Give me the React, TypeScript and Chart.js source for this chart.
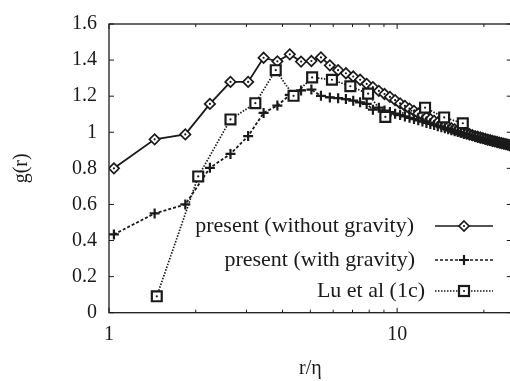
import React, { useEffect, useRef } from 'react';
import { Chart, registerables } from 'chart.js';

Chart.register(...registerables);

// ---------- data ----------
const rPresent = [
  1.04, 1.44, 1.84, 2.24, 2.64, 3.04, 3.44, 3.84, 4.24, 4.64,
  5.04, 5.44, 5.84, 6.24, 6.64, 7.04, 7.44, 7.84, 8.24, 8.64,
  9.04, 9.44, 9.84, 10.24, 10.64, 11.04, 11.44, 11.84, 12.24, 12.64,
  13.04, 13.44, 13.84, 14.24, 14.64, 15.04, 15.44, 15.84, 16.24, 16.64,
  17.04, 17.44, 17.84, 18.24, 18.64, 19.04, 19.44, 19.84, 20.24, 20.64,
  21.04, 21.44, 21.84, 22.24, 22.64, 23.04, 23.44, 23.84, 24.24, 24.64,
];
const gWithoutGravity = [
  0.800, 0.961, 0.988, 1.157, 1.279, 1.279, 1.413, 1.393, 1.432, 1.392,
  1.395, 1.415, 1.371, 1.344, 1.327, 1.309, 1.291, 1.268, 1.250, 1.229,
  1.212, 1.196, 1.178, 1.160, 1.146, 1.131, 1.118, 1.104, 1.094, 1.082,
  1.073, 1.063, 1.054, 1.046, 1.037, 1.030, 1.022, 1.016, 1.010, 1.004,
  0.999, 0.994, 0.989, 0.984, 0.979, 0.975, 0.971, 0.967, 0.963, 0.959,
  0.956, 0.952, 0.949, 0.946, 0.943, 0.940, 0.937, 0.934, 0.931, 0.928,
];
const gWithGravity = [
  0.434, 0.550, 0.600, 0.803, 0.880, 0.979, 1.107, 1.148, 1.207, 1.232,
  1.237, 1.202, 1.193, 1.189, 1.184, 1.175, 1.166, 1.157, 1.125, 1.136,
  1.120, 1.112, 1.103, 1.095, 1.088, 1.080, 1.073, 1.066, 1.059, 1.052,
  1.046, 1.040, 1.034, 1.028, 1.022, 1.017, 1.011, 1.006, 1.001, 0.996,
  0.991, 0.987, 0.983, 0.979, 0.975, 0.971, 0.967, 0.963, 0.959, 0.956,
  0.952, 0.949, 0.946, 0.943, 0.940, 0.937, 0.934, 0.931, 0.928, 0.925,
];
const rLu = [1.465, 2.04, 2.64, 3.22, 3.79, 4.37, 5.07, 5.94, 6.88, 7.93, 9.1, 12.5, 14.56, 16.9];
const gLu = [0.091, 0.755, 1.071, 1.161, 1.344, 1.202, 1.304, 1.291, 1.255, 1.214, 1.085, 1.136, 1.082, 1.050];

const seriesLabels = ['present (without gravity)', 'present (with gravity)', 'Lu et al (1c)'];
const xTickValues = [1, 2, 3, 4, 5, 6, 7, 8, 9, 10, 20];
const xMajorTicks = [1, 10];
const xTitle = 'r/η';
const yTitle = 'g(r)';

// ---------- styles ----------
const FONT = "'Liberation Serif', 'Times New Roman', serif";
const INK = '#1a1a1a';
const FONT_SIZE = 20;
const LEGEND_FONT_SIZE = 22;

const framePlugin = {
  id: 'frame',
  beforeDatasetsDraw(chart: any) {
    const { ctx, chartArea: a, scales } = chart;
    ctx.save();
    ctx.strokeStyle = INK;
    ctx.lineWidth = 1.3;
    ctx.strokeRect(a.left, a.top, a.right - a.left, a.bottom - a.top);
    ctx.lineWidth = 1;
    ctx.beginPath();
    for (const t of scales.x.ticks) {
      const px = scales.x.getPixelForValue(t.value);
      const len = xMajorTicks.includes(t.value) ? 5 : 3;
      ctx.moveTo(px, a.bottom); ctx.lineTo(px, a.bottom - len);
      ctx.moveTo(px, a.top); ctx.lineTo(px, a.top + len);
    }
    for (const t of scales.y.ticks) {
      const py = scales.y.getPixelForValue(t.value);
      ctx.moveTo(a.left, py); ctx.lineTo(a.left + 5, py);
      ctx.moveTo(a.right, py); ctx.lineTo(a.right - 5, py);
    }
    ctx.stroke();
    ctx.restore();
  },
};

const dotPlugin = {
  id: 'centerDots',
  afterDatasetsDraw(chart: any) {
    const { ctx, chartArea: a } = chart;
    ctx.save();
    ctx.beginPath();
    ctx.rect(a.left, a.top, a.right - a.left, a.bottom - a.top);
    ctx.clip();
    ctx.fillStyle = INK;
    [0, 2].forEach((di) => {
      const meta = chart.getDatasetMeta(di);
      meta.data.forEach((el: any) => {
        ctx.beginPath();
        ctx.arc(el.x, el.y, 1.1, 0, Math.PI * 2);
        ctx.fill();
      });
    });
    ctx.restore();
  },
};

function drawMarker(ctx: CanvasRenderingContext2D, kind: number, x: number, y: number) {
  ctx.save();
  ctx.strokeStyle = INK;
  ctx.setLineDash([]);
  if (kind === 0) {
    ctx.lineWidth = 1.7;
    ctx.fillStyle = '#fff';
    ctx.beginPath();
    ctx.moveTo(x, y - 5); ctx.lineTo(x + 5, y); ctx.lineTo(x, y + 5); ctx.lineTo(x - 5, y); ctx.closePath();
    ctx.fill(); ctx.stroke();
    ctx.fillStyle = INK;
    ctx.beginPath(); ctx.arc(x, y, 1.1, 0, Math.PI * 2); ctx.fill();
  } else if (kind === 1) {
    ctx.lineWidth = 2.2;
    ctx.beginPath();
    ctx.moveTo(x - 5, y); ctx.lineTo(x + 5, y);
    ctx.moveTo(x, y - 5); ctx.lineTo(x, y + 5);
    ctx.stroke();
  } else {
    ctx.lineWidth = 2.2;
    ctx.fillStyle = '#fff';
    ctx.fillRect(x - 5, y - 5, 10, 10);
    ctx.strokeRect(x - 5, y - 5, 10, 10);
    ctx.fillStyle = INK;
    ctx.beginPath(); ctx.arc(x, y, 1.1, 0, Math.PI * 2); ctx.fill();
  }
  ctx.restore();
}

const legendRows = [
  { y: 226, textRight: 414, dash: [] as number[] },
  { y: 260, textRight: 415, dash: [3, 2] },
  { y: 291, textRight: 425, dash: [1.5, 1.5] },
];

const legendPlugin = {
  id: 'gnuLegend',
  afterDraw(chart: any) {
    const { ctx } = chart;
    ctx.save();
    ctx.font = `${LEGEND_FONT_SIZE}px ${FONT}`;
    ctx.fillStyle = INK;
    ctx.textAlign = 'right';
    ctx.textBaseline = 'middle';
    legendRows.forEach((row, i) => {
      ctx.fillText(seriesLabels[i], row.textRight, row.y);
      ctx.save();
      ctx.strokeStyle = INK;
      ctx.lineWidth = 1.7;
      ctx.setLineDash(row.dash);
      ctx.beginPath();
      ctx.moveTo(435, row.y); ctx.lineTo(493, row.y);
      ctx.stroke();
      ctx.restore();
      drawMarker(ctx, i, 464, row.y);
    });
    ctx.restore();
  },
};

export default function App() {
  const ref = useRef<HTMLCanvasElement | null>(null);

  useEffect(() => {
    document.body.style.margin = '0';
    const canvas = ref.current;
    if (!canvas) return;
    const chart = new Chart(canvas, {
      type: 'line',
      data: {
        datasets: [
          {
            label: seriesLabels[0],
            data: rPresent.map((r, i) => ({ x: r, y: gWithoutGravity[i] })),
            borderColor: INK,
            borderWidth: 1.8,
            pointStyle: 'rectRot',
            pointRadius: 5.2,
            pointBorderWidth: 1.7,
            pointBackgroundColor: '#fff',
            pointBorderColor: INK,
            tension: 0,
            order: 2,
          },
          {
            label: seriesLabels[1],
            data: rPresent.map((r, i) => ({ x: r, y: gWithGravity[i] })),
            borderColor: INK,
            borderWidth: 1.8,
            borderDash: [3, 2],
            pointStyle: 'cross',
            pointRadius: 5,
            pointBorderWidth: 2.2,
            pointBorderColor: INK,
            tension: 0,
            order: 1,
          },
          {
            label: seriesLabels[2],
            data: rLu.map((r, i) => ({ x: r, y: gLu[i] })),
            borderColor: INK,
            borderWidth: 1.7,
            borderDash: [1.5, 1.5],
            pointStyle: 'rect',
            pointRadius: 7,
            pointBorderWidth: 2.2,
            pointBackgroundColor: '#fff',
            pointBorderColor: INK,
            tension: 0,
            order: 0,
          },
        ],
      },
      options: {
        animation: false,
        responsive: false,
        devicePixelRatio: 1,
        layout: { padding: { top: 14, right: 1, bottom: 0, left: 0 } },
        plugins: { legend: { display: false }, tooltip: { enabled: false } },
        scales: {
          x: {
            type: 'logarithmic',
            min: 1,
            max: 25,
            grid: { display: false, drawTicks: false },
            border: { display: false },
            ticks: {
              autoSkip: false,
              maxRotation: 0,
              padding: 10,
              color: INK,
              font: { family: FONT, size: FONT_SIZE },
              callback: (v: any) => {
                const n = Number(v);
                return xMajorTicks.some((m) => Math.abs(m - n) < 1e-9) ? String(n) : '';
              },
            },
            afterBuildTicks: (s: any) => {
              s.ticks = xTickValues.map((v) => ({ value: v }));
            },
            afterFit: (s: any) => {
              s.height = 68.3;
            },
            title: {
              display: true,
              text: xTitle,
              color: INK,
              font: { family: FONT, size: FONT_SIZE },
              padding: { top: 0, bottom: 0 },
            },
          },
          y: {
            type: 'linear',
            min: 0,
            max: 1.6,
            grid: { display: false, drawTicks: false },
            border: { display: false },
            ticks: {
              stepSize: 0.2,
              padding: 12,
              color: INK,
              font: { family: FONT, size: FONT_SIZE },
              callback: (v: any) => String(Number(Number(v).toFixed(1))),
            },
            afterFit: (s: any) => {
              s.width = 109;
            },
            title: {
              display: true,
              text: yTitle,
              color: INK,
              font: { family: FONT, size: FONT_SIZE },
              padding: { top: 10, bottom: 0 },
            },
          },
        },
      },
      plugins: [framePlugin, dotPlugin, legendPlugin],
    } as any);
    return () => chart.destroy();
  }, []);

  return (
    <div style={{ position: 'absolute', left: 0, top: 0, width: 510, height: 381, overflow: 'hidden' }}>
      <canvas ref={ref} width={521} height={381} style={{ width: 521, height: 381, display: 'block' }} />
    </div>
  );
}
